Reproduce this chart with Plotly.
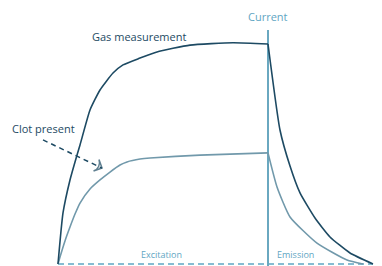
import plotly.graph_objects as go

# Time axis (arbitrary units): current switched off at t = 10
switch_t = 10.0
end_t = 15.0

# Gas measurement curve (excitation phase, then emission decay)
gas_rise_t = [0.0, 0.238, 0.571, 0.810, 1.048, 1.524, 2.0, 2.619, 3.095, 3.905, 4.714, 6.286, 8.333, 10.0]
gas_rise_v = [0.0, 0.232, 0.382, 0.464, 0.541, 0.700, 0.791, 0.868, 0.905, 0.936, 0.964, 0.995, 1.006, 1.0]
gas_fall_t = [10.0, 10.571, 11.048, 11.524, 12.238, 12.952, 13.905, 15.0]
gas_fall_v = [1.0, 0.609, 0.445, 0.323, 0.209, 0.123, 0.050, 0.0]

# Clot present curve
clot_rise_t = [0.0, 0.095, 0.333, 0.571, 0.810, 1.048, 1.524, 2.0, 2.476, 2.952, 3.286, 3.905, 4.381, 6.762, 10.0]
clot_rise_v = [0.0, 0.032, 0.105, 0.168, 0.227, 0.277, 0.341, 0.382, 0.418, 0.450, 0.464, 0.477, 0.482, 0.495, 0.505]
clot_fall_t = [10.0, 10.429, 11.048, 12.333, 13.762, 14.524]
clot_fall_v = [0.505, 0.350, 0.214, 0.095, 0.018, 0.0]

# Pointer from "Clot present" label to the clot curve
pointer_t = [-0.714, 2.095]
pointer_v = [0.564, 0.436]

NAVY = "#1d4a63"
SLATE = "#7199ab"
LIGHT = "#5fa6c3"

fig = go.Figure()

# baseline (dashed)
fig.add_trace(go.Scatter(x=[0, end_t], y=[0, 0], mode="lines",
                         line=dict(color=LIGHT, width=1.6, dash="6px,4px"),
                         hoverinfo="skip"))
# current switch line
fig.add_trace(go.Scatter(x=[switch_t, switch_t], y=[-0.01, 1.064], mode="lines",
                         line=dict(color="#6aa8c0", width=2), hoverinfo="skip"))

for xs, ys, col in [(clot_rise_t, clot_rise_v, SLATE), (clot_fall_t, clot_fall_v, SLATE),
                    (gas_rise_t, gas_rise_v, NAVY), (gas_fall_t, gas_fall_v, NAVY)]:
    fig.add_trace(go.Scatter(x=xs, y=ys, mode="lines",
                             line=dict(color=col, width=1.6, shape="spline", smoothing=0.5),
                             hoverinfo="skip"))

fig.add_trace(go.Scatter(x=pointer_t, y=pointer_v, mode="lines+markers",
                         line=dict(color=NAVY, width=1.5, dash="5px,4px"),
                         marker=dict(symbol="arrow-wide-open", size=[0, 9], angleref="previous",
                                     color=NAVY, line=dict(color=NAVY, width=1.5)),
                         hoverinfo="skip"))

FONT = "Open Sans"
ann = [
    dict(x=1.524, y=1.036, text="Gas measurement", xanchor="left", font=dict(size=11, color=NAVY)),
    dict(x=-2.286, y=0.614, text="Clot present", xanchor="left", font=dict(size=11, color=NAVY)),
    dict(x=switch_t, y=1.127, text="Current", xanchor="center", font=dict(size=11, color=LIGHT)),
    dict(x=4.905, y=0.045, text="Excitation", xanchor="center", font=dict(size=9, color=LIGHT)),
    dict(x=11.286, y=0.045, text="Emission", xanchor="center", font=dict(size=9, color=LIGHT)),
]
for a in ann:
    a.update(showarrow=False, yanchor="middle", xref="x", yref="y")
    a["font"]["family"] = FONT

fig.update_layout(
    width=382, height=266, autosize=False,
    margin=dict(l=0, r=0, t=0, b=0),
    paper_bgcolor="white", plot_bgcolor="white",
    showlegend=False,
    xaxis=dict(range=[-58 / 21, 324 / 21], visible=False, fixedrange=True),
    yaxis=dict(range=[-2 / 220, 264 / 220], visible=False, fixedrange=True),
    annotations=ann,
)

fig.write_html("out.html", config={"displayModeBar": False},
               post_script="document.body.style.margin='0';document.body.style.overflow='hidden';")
